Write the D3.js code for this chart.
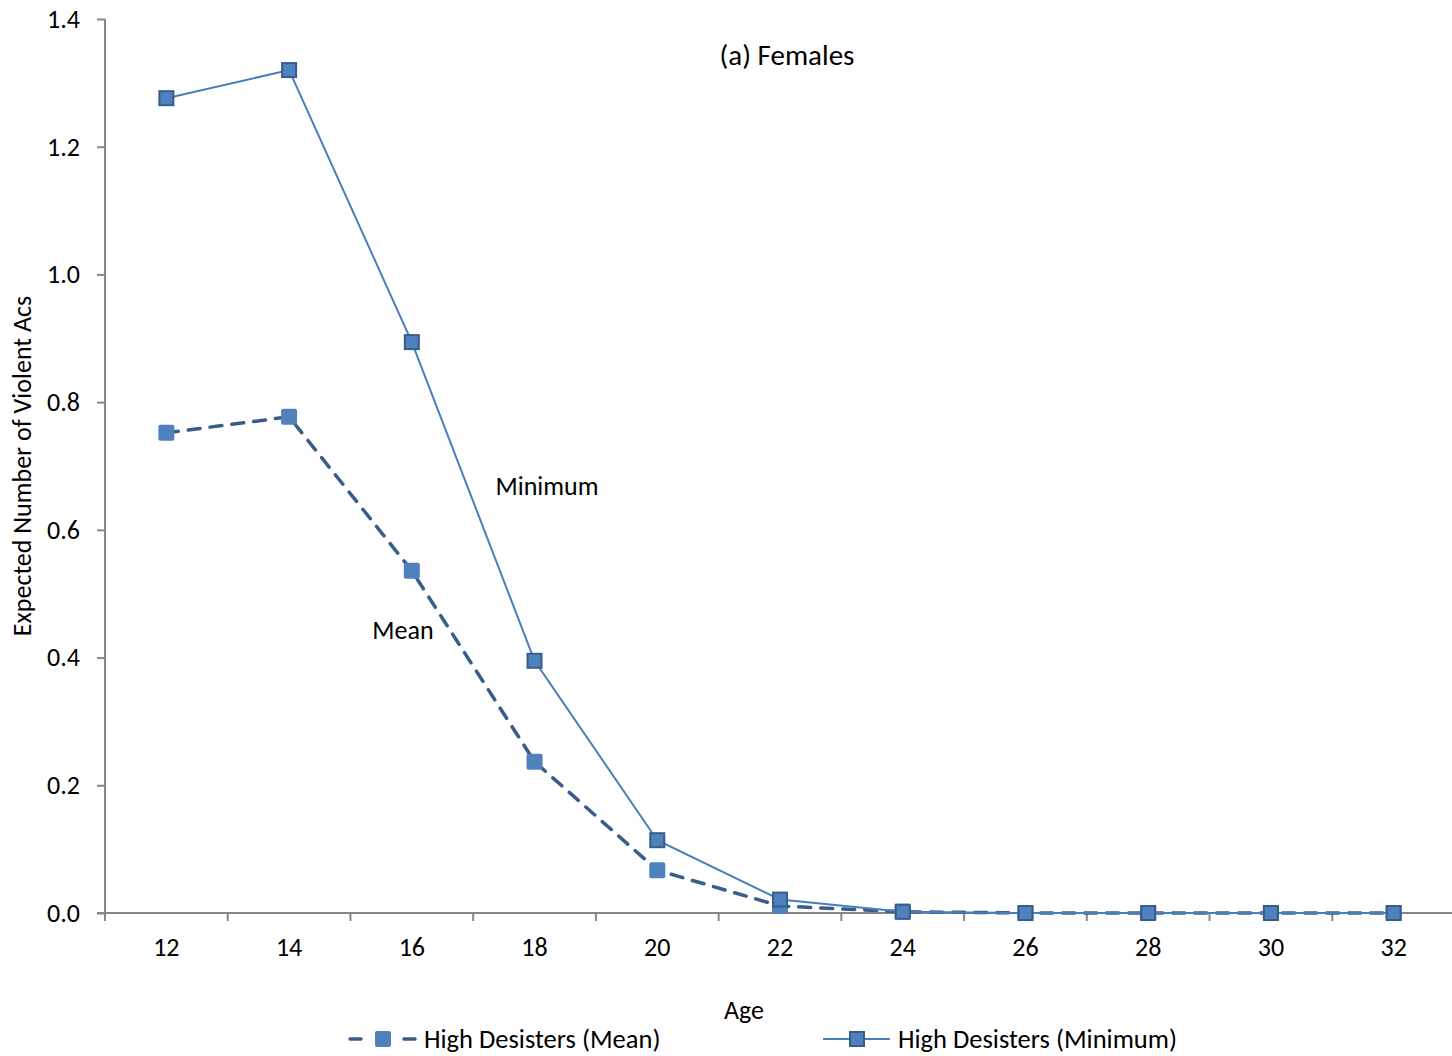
<!DOCTYPE html>
<html><head><meta charset="utf-8">
<script src="https://cdn.jsdelivr.net/npm/d3@7"></script>
<style>body{margin:0;background:#fff}svg{display:block}text{font-family:Carlito,Calibri,Lato,"Open Sans",sans-serif;fill:#000}</style>
</head><body><svg id="c" width="1452" height="1056"></svg>
<script>
const ages = ["12","14","16","18","20","22","24","26","28","30","32"];
const meanValues = [0.752,0.777,0.536,0.237,0.067,0.011,0.002,0.0,0.0,0.0,0.0];
const minValues = [1.276,1.320,0.894,0.395,0.114,0.021,0.002,0.0,0.0,0.0,0.0];
const yTicks = [0,0.2,0.4,0.6,0.8,1.0,1.2,1.4];
const seriesNames = ["High Desisters (Mean)","High Desisters (Minimum)"];

const FS = 26;
const svg = d3.select("#c");
const x = d3.scaleBand().domain(ages).range([105,1455]);
const y = d3.scaleLinear().domain([0,1.4]).range([913,19]);
const cx = d => x(d)+x.bandwidth()/2;
const axisCol = "#868686";

// y axis
const ya = svg.append("g").attr("transform","translate(105,0)")
  .call(d3.axisLeft(y).tickValues(yTicks).tickFormat(d3.format(".1f")).tickSize(8).tickPadding(17));
ya.select(".domain").attr("stroke",axisCol).attr("stroke-width",2).attr("d","M0,19V913");
ya.selectAll("line").attr("stroke",axisCol).attr("stroke-width",2);
ya.selectAll("text").attr("font-size",FS).style("fill","#000");

// x axis
const xa = svg.append("g").attr("transform","translate(0,913)")
  .call(d3.axisBottom(x).tickSize(0).tickPadding(25));
xa.select(".domain").attr("stroke",axisCol).attr("stroke-width",2).attr("d","M97,0H1452");
xa.selectAll("text").attr("font-size",FS).style("fill","#000");
xa.selectAll(".bt").data(ages).enter().append("line")
  .attr("x1",d=>x(d)).attr("x2",d=>x(d)).attr("y1",0).attr("y2",8)
  .attr("stroke",axisCol).attr("stroke-width",2);

const line = d3.line().x((d,i)=>cx(ages[i])).y(d=>y(d));

// mean series
svg.append("path").datum(meanValues).attr("d",line).attr("fill","none")
  .attr("stroke","#385D8A").attr("stroke-width",3.5).attr("stroke-dasharray","12,10").attr("stroke-linecap","round");
svg.selectAll(".mm").data(meanValues).enter().append("rect")
  .attr("x",(d,i)=>cx(ages[i])-8).attr("y",d=>y(d)-8).attr("width",16).attr("height",16).attr("rx",2)
  .attr("fill","#4F81BD");

// minimum series
svg.append("path").datum(minValues).attr("d",line).attr("fill","none")
  .attr("stroke","#4A7EBB").attr("stroke-width",2);
svg.selectAll(".mn").data(minValues).enter().append("rect")
  .attr("x",(d,i)=>cx(ages[i])-7).attr("y",d=>y(d)-7).attr("width",14).attr("height",14)
  .attr("fill","#4F81BD").attr("stroke","#385D8A").attr("stroke-width",2);

// annotations
svg.append("text").attr("x",787).attr("y",65).attr("text-anchor","middle").attr("font-size",29).text("(a) Females");
svg.append("text").attr("x",547).attr("y",495).attr("text-anchor","middle").attr("font-size",FS).text("Minimum");
svg.append("text").attr("x",403).attr("y",639).attr("text-anchor","middle").attr("font-size",FS).text("Mean");
svg.append("text").attr("transform","translate(31,466) rotate(-90)").attr("text-anchor","middle").attr("font-size",FS).text("Expected Number of Violent Acs");
svg.append("text").attr("x",744).attr("y",1019).attr("text-anchor","middle").attr("font-size",FS).text("Age");

// legend
const lg = svg.append("g");
lg.append("line").attr("x1",350).attr("x2",361).attr("y1",1039).attr("y2",1039).attr("stroke","#385D8A").attr("stroke-width",3.5).attr("stroke-linecap","round");
lg.append("line").attr("x1",404).attr("x2",415).attr("y1",1039).attr("y2",1039).attr("stroke","#385D8A").attr("stroke-width",3.5).attr("stroke-linecap","round");
lg.append("rect").attr("x",375).attr("y",1031).attr("width",16).attr("height",16).attr("rx",2).attr("fill","#4F81BD");
lg.append("text").attr("x",424).attr("y",1048).attr("font-size",26.5).text(seriesNames[0]);
lg.append("line").attr("x1",823).attr("x2",890).attr("y1",1039).attr("y2",1039).attr("stroke","#4A7EBB").attr("stroke-width",2);
lg.append("rect").attr("x",850).attr("y",1032).attr("width",14).attr("height",14).attr("fill","#4F81BD").attr("stroke","#385D8A").attr("stroke-width",2);
lg.append("text").attr("x",898).attr("y",1048).attr("font-size",26.5).text(seriesNames[1]);
</script></body></html>
